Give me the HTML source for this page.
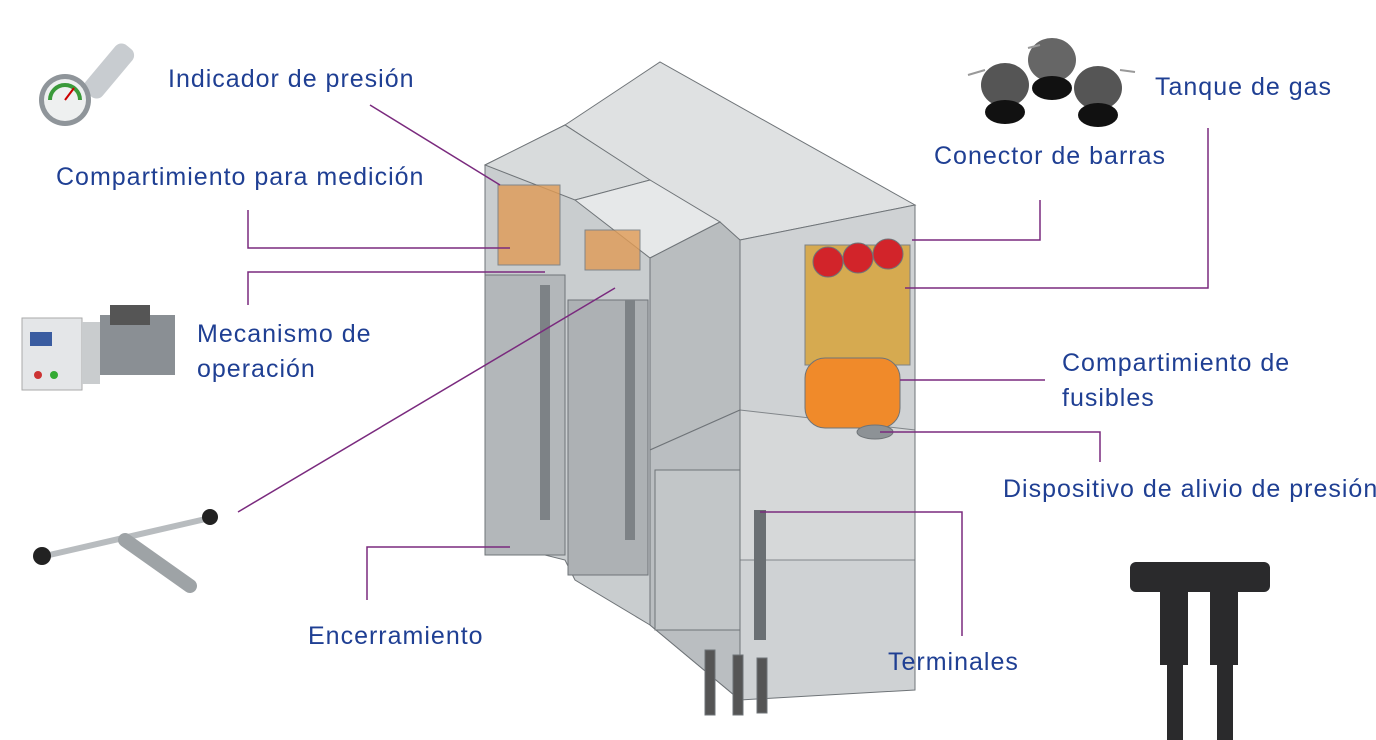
<!DOCTYPE html>
<html><head><meta charset="utf-8"><style>
html,body{margin:0;padding:0;background:#fff;}
#c{position:relative;width:1376px;height:740px;overflow:hidden;background:#fff;font-family:"Liberation Sans",sans-serif;}
.t{position:absolute;color:#1f3f93;font-size:25px;letter-spacing:1px;line-height:35px;white-space:nowrap;}
svg{position:absolute;left:0;top:0;}
</style></head><body><div id="c">
<svg width="1376" height="740" viewBox="0 0 1376 740">
<g>
<rect x="78" y="60" width="62" height="22" rx="8" fill="#c8ccd0" transform="rotate(-50 109 71)"/>
<circle cx="65" cy="100" r="26" fill="#8f959a"/><circle cx="65" cy="100" r="21" fill="#eef0f0"/>
<path d="M50 100 A15 15 0 0 1 80 100" stroke="#3a9a3a" stroke-width="4" fill="none"/>
<line x1="65" y1="100" x2="74" y2="88" stroke="#c00" stroke-width="2"/>
</g>
<g>
<rect x="22" y="318" width="60" height="72" fill="#e4e6e8" stroke="#aaa"/>
<rect x="82" y="322" width="18" height="62" fill="#c9ccce"/>
<rect x="100" y="315" width="75" height="60" fill="#8a8f94"/>
<rect x="110" y="305" width="40" height="20" fill="#555"/>
<circle cx="38" cy="375" r="4" fill="#c33"/><circle cx="54" cy="375" r="4" fill="#3a3"/>
<rect x="30" y="332" width="22" height="14" fill="#3a5ca0"/>
</g>
<g stroke-linecap="round">
<line x1="45" y1="556" x2="210" y2="518" stroke="#b8bcbf" stroke-width="6"/>
<line x1="125" y1="540" x2="190" y2="586" stroke="#9ea3a6" stroke-width="14"/>
<circle cx="42" cy="556" r="9" fill="#222"/><circle cx="210" cy="517" r="8" fill="#222"/>
</g>
<g>
<ellipse cx="1005" cy="85" rx="24" ry="22" fill="#555"/><ellipse cx="1005" cy="112" rx="20" ry="12" fill="#111"/>
<ellipse cx="1052" cy="60" rx="24" ry="22" fill="#666"/><ellipse cx="1052" cy="88" rx="20" ry="12" fill="#111"/>
<ellipse cx="1098" cy="88" rx="24" ry="22" fill="#555"/><ellipse cx="1098" cy="115" rx="20" ry="12" fill="#111"/>
<path d="M968 75 L985 70 M1028 48 L1040 45 M1120 70 L1135 72" stroke="#999" stroke-width="2"/>
</g>
<g fill="#2a2a2c">
<rect x="1130" y="562" width="140" height="30" rx="6"/>
<rect x="1160" y="575" width="28" height="90"/><rect x="1210" y="575" width="28" height="90"/>
<rect x="1167" y="660" width="16" height="80"/><rect x="1217" y="660" width="16" height="80"/>
</g>
<g stroke="#6f7478" stroke-width="1">
<polygon points="565,125 660,62 915,205 740,240" fill="#dfe1e2"/>
<polygon points="485,165 565,125 740,240 740,700 650,625 575,580 565,560 485,540" fill="#c9cdcf"/>
<polygon points="485,165 565,125 650,180 575,200" fill="#d8dbdc"/>
<polygon points="575,200 650,180 720,222 650,258" fill="#e6e8e9"/>
<polygon points="650,258 720,222 740,240 740,410 650,450" fill="#b9bdbf"/>
<polygon points="740,240 915,205 915,690 740,700" fill="#cfd2d4"/>
<polygon points="650,450 740,410 740,700 650,625" fill="#babec1"/>
<polygon points="740,410 915,430 915,560 740,560" fill="#d8dadb" opacity=".8"/>
<rect x="485" y="275" width="80" height="280" fill="#b3b7ba"/>
<rect x="568" y="300" width="80" height="275" fill="#adb1b4"/>
<rect x="655" y="470" width="85" height="160" fill="#c2c6c8"/>
<rect x="498" y="185" width="62" height="80" fill="#e09b55" opacity=".8"/>
<rect x="585" y="230" width="55" height="40" fill="#e09b55" opacity=".8"/>
<rect x="805" y="245" width="105" height="120" fill="#d8a43a" opacity=".85"/>
<circle cx="828" cy="262" r="15" fill="#d2242a"/><circle cx="858" cy="258" r="15" fill="#d2242a"/><circle cx="888" cy="254" r="15" fill="#d2242a"/>
<rect x="805" y="358" width="95" height="70" rx="20" fill="#f08a2a"/>
<ellipse cx="875" cy="432" rx="18" ry="7" fill="#8d9296"/>
<rect x="705" y="650" width="10" height="65" fill="#555"/><rect x="733" y="655" width="10" height="60" fill="#555"/><rect x="757" y="658" width="10" height="55" fill="#555"/>
<line x1="545" y1="285" x2="545" y2="520" stroke="#7d8286" stroke-width="10"/>
<line x1="630" y1="300" x2="630" y2="540" stroke="#7d8286" stroke-width="10"/>
<line x1="760" y1="510" x2="760" y2="640" stroke="#6a6f73" stroke-width="12"/>
</g>
<g stroke="#7a2a7e" stroke-width="1.5" fill="none">
<path d="M370 105 L500 185"/>
<path d="M248 210 V248 H510"/>
<path d="M248 305 V272 H545"/>
<path d="M238 512 L615 288"/>
<path d="M367 600 V547 H510"/>
<path d="M1040 200 V240 H912"/>
<path d="M1208 128 V288 H905"/>
<path d="M1045 380 H900"/>
<path d="M1100 462 V432 H880"/>
<path d="M962 636 V512 H760"/>
</g>
</svg>
<div class="t" style="left:168px;top:62px">Indicador de presión</div>
<div class="t" style="left:56px;top:160px">Compartimiento para medición</div>
<div class="t" style="left:197px;top:317px">Mecanismo de<br>operación</div>
<div class="t" style="left:308px;top:619px">Encerramiento</div>
<div class="t" style="left:1155px;top:70px">Tanque de gas</div>
<div class="t" style="left:934px;top:139px">Conector de barras</div>
<div class="t" style="left:1062px;top:346px">Compartimiento de<br>fusibles</div>
<div class="t" style="left:1003px;top:472px">Dispositivo de alivio de presión</div>
<div class="t" style="left:888px;top:645px">Terminales</div>
</div></body></html>
